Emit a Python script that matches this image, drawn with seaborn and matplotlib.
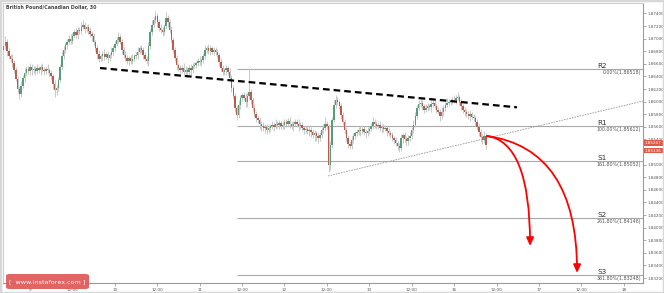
import matplotlib
matplotlib.use("Agg")
import matplotlib.pyplot as plt
import seaborn as sns
import numpy as np
from matplotlib.patches import FancyBboxPatch, Rectangle

# ---------------- data ----------------
title = "British Pound/Canadian Dollar, 30"
first_open = 1.8682
closes = [
    1.8688, 1.8695, 1.8680, 1.8672, 1.8668, 1.8662, 1.8650, 1.8636, 1.8620, 1.8612,
    1.8625, 1.8638, 1.8646, 1.8652, 1.8648, 1.8655, 1.8650, 1.8652, 1.8648, 1.8653,
    1.8650, 1.8655, 1.8651, 1.8648, 1.8652, 1.8650, 1.8646, 1.8640, 1.8628, 1.8618,
    1.8622, 1.8635, 1.8655, 1.8672, 1.8682, 1.8690, 1.8695, 1.8699, 1.8696, 1.8705,
    1.8710, 1.8706, 1.8714, 1.8712, 1.8719, 1.8722, 1.8716, 1.8718, 1.8712, 1.8708,
    1.8704, 1.8694, 1.8685, 1.8675, 1.8668, 1.8672, 1.8676, 1.8671, 1.8675, 1.8670,
    1.8674, 1.8679, 1.8685, 1.8692, 1.8698, 1.8703, 1.8695, 1.8682, 1.8674, 1.8669,
    1.8665, 1.8669, 1.8664, 1.8668, 1.8672, 1.8674, 1.8679, 1.8685, 1.8682, 1.8674,
    1.8668, 1.8664, 1.8688, 1.8711, 1.8722, 1.8730, 1.8736, 1.8726, 1.8717, 1.8713,
    1.8710, 1.8720, 1.8733, 1.8726, 1.8713, 1.8698, 1.8682, 1.8669, 1.8658, 1.8653,
    1.8650, 1.8654, 1.8647, 1.8651, 1.8647, 1.8653, 1.8650, 1.8657, 1.8658, 1.8661,
    1.8665, 1.8663, 1.8666, 1.8672, 1.8682, 1.8685, 1.8681, 1.8685, 1.8679, 1.8682,
    1.8679, 1.8674, 1.8663, 1.8653, 1.8647, 1.8650, 1.8653, 1.8647, 1.8638, 1.8622,
    1.8609, 1.8590, 1.8579, 1.8595, 1.8606, 1.8610, 1.8606, 1.8599, 1.8609, 1.8615,
    1.8603, 1.8590, 1.8580, 1.8574, 1.8571, 1.8565, 1.8561, 1.8558, 1.8560, 1.8555,
    1.8558, 1.8561, 1.8563, 1.8560, 1.8565, 1.8563, 1.8566, 1.8561, 1.8563, 1.8568,
    1.8565, 1.8569, 1.8565, 1.8561, 1.8565, 1.8568, 1.8565, 1.8561, 1.8563, 1.8558,
    1.8555, 1.8557, 1.8553, 1.8555, 1.8552, 1.8547, 1.8550, 1.8545, 1.8542, 1.8547,
    1.8555, 1.8558, 1.8565, 1.8561, 1.8499, 1.8531, 1.8571, 1.8595, 1.8603, 1.8599,
    1.8593, 1.8579, 1.8568, 1.8555, 1.8542, 1.8533, 1.8530, 1.8539, 1.8545, 1.8550,
    1.8552, 1.8555, 1.8553, 1.8557, 1.8552, 1.8550, 1.8553, 1.8557, 1.8561, 1.8568,
    1.8565, 1.8561, 1.8563, 1.8558, 1.8560, 1.8557, 1.8558, 1.8553, 1.8550, 1.8547,
    1.8542, 1.8539, 1.8534, 1.8530, 1.8526, 1.8542, 1.8547, 1.8541, 1.8538, 1.8542,
    1.8545, 1.8555, 1.8563, 1.8577, 1.8590, 1.8596, 1.8598, 1.8593, 1.8587, 1.8590,
    1.8593, 1.8591, 1.8596, 1.8598, 1.8593, 1.8587, 1.8584, 1.8577, 1.8584, 1.8590,
    1.8595, 1.8598, 1.8599, 1.8601, 1.8603, 1.8602, 1.8606, 1.8607, 1.8599, 1.8593,
    1.8587, 1.8584, 1.8580, 1.8577, 1.8580, 1.8576, 1.8574, 1.8568, 1.8560, 1.8552,
    1.8544, 1.8539, 1.8545, 1.8531,
]
# wick lengths above / below the body, in pips (0.0001)
upper_wick = [
    5,9,4,5,4,7,4,5,4,5,7,4,8,5,4,7,5,4,5,7,
    4,5,7,4,5,8,4,5,4,7,5,4,5,8,7,4,5,7,9,4,
    5,7,4,5,8,7,5,4,5,7,4,5,4,5,7,4,5,8,4,5,
    4,7,5,4,5,8,4,5,4,7,5,4,5,7,4,5,8,4,5,4,
    5,4,7,5,8,4,8,5,4,7,5,4,9,5,4,7,5,4,5,4,
    5,4,7,5,4,5,7,4,5,4,5,7,4,5,8,4,7,5,4,5,
    4,5,4,7,5,4,5,4,7,5,4,5,4,7,5,4,5,7,4,38,
    5,4,7,5,4,5,4,7,5,4,5,4,7,5,8,4,5,4,7,5,
    4,5,7,4,5,4,5,7,4,5,4,5,4,7,5,4,5,4,7,5,
    5,7,10,5,4,7,5,8,7,5,4,5,4,5,4,5,4,7,5,4,
    5,4,7,5,4,5,7,4,5,8,4,5,4,7,5,4,5,4,5,4,
    5,4,5,4,5,7,4,5,4,5,7,5,8,7,5,7,8,5,4,7,
    5,4,7,5,4,5,4,5,7,5,4,7,5,4,5,7,5,8,4,5,
    4,5,4,5,7,4,5,4,5,4,5,4,8,5,
]
lower_wick = [
    7,5,8,4,5,7,5,4,7,8,5,4,7,5,4,5,7,4,5,4,
    5,7,4,5,4,5,7,4,8,11,7,5,4,5,4,5,7,4,5,4,
    4,5,7,4,5,4,7,5,4,5,7,4,5,8,5,4,7,5,4,8,
    5,4,7,5,4,5,4,7,5,4,5,7,4,5,4,5,7,4,5,7,
    4,5,7,4,5,4,5,7,5,4,5,4,5,7,4,5,4,5,7,5,
    4,5,7,4,5,4,7,5,4,5,4,5,7,4,5,4,5,7,4,5,
    5,4,7,5,4,5,7,4,5,7,5,7,8,5,7,5,4,8,7,5,
    7,5,4,7,5,8,7,5,8,7,5,4,5,7,4,5,7,4,5,7,
    5,4,7,5,8,4,5,7,4,5,7,4,5,7,8,5,9,7,8,5,
    4,5,4,5,11,7,5,4,5,4,5,7,5,7,5,7,5,5,4,5,
    4,5,7,4,5,7,4,5,4,5,7,4,5,4,7,5,4,7,5,4,
    5,7,5,7,6,5,7,5,8,7,5,4,5,4,5,4,5,7,5,4,
    5,4,7,5,4,5,4,8,5,7,5,4,5,4,5,4,5,4,5,7,
    5,7,4,5,7,4,5,7,5,7,8,7,5,6,
]
x_tick_pos = [15, 39, 63, 87, 111, 135, 159, 183, 207, 231, 255, 279, 303, 327, 351]
x_tick_labels = ["9", "12:00", "10", "12:00", "11", "12:00", "12", "12:00",
                 "13", "12:00", "16", "12:00", "17", "12:00", "18"]
y_ticks = [1.832, 1.834, 1.836, 1.838, 1.840, 1.842, 1.844, 1.846, 1.848, 1.850,
           1.852, 1.854, 1.856, 1.858, 1.860, 1.862, 1.864, 1.866, 1.868, 1.870,
           1.872, 1.874]
y_tick_labels = ["1.83200", "1.83400", "1.83600", "1.83800", "1.84000", "1.84200",
                 "1.84400", "1.84600", "1.84800", "1.85000", "", "1.85400",
                 "1.85600", "1.85800", "1.86000", "1.86200", "1.86400", "1.86600",
                 "1.86800", "1.87000", "1.87200", "1.87400"]
level_names = ["R2", "R1", "S1", "S2", "S3"]
level_pcts = ["0.00%", "100.00%", "161.80%", "261.80%", "361.80%"]
level_values = [1.86518, 1.85612, 1.85052, 1.84146, 1.83248]
level_start = 132.1
resist_x = [54.6, 290.6]
resist_y = [1.86534, 1.8591]
support_x = [183.6, 361.9]
support_y = [1.84820, 1.86010]
arrow_start = (273.6, 1.85455)
arrow_ends = [(298.0, 1.83709), (324.6, 1.83280)]
price_tags = ["1.85307", "1.85336"]

# ---------------- figure ----------------
sns.set_theme(style="white")
plt.rcParams["font.family"] = ["DejaVu Sans"]

W, H = 664, 293
fig = plt.figure(figsize=(W / 100, H / 100), dpi=100)
fig.patch.set_facecolor("white")
L, R, T, B = 3, 643, 3, 283
ax = fig.add_axes([L / W, 1 - B / H, (R - L) / W, (B - T) / H])
ax.set_facecolor("white")
ax.set_xlim(-0.28, 361.9)
ax.set_ylim(1.83121, 1.87566)

closes_a = np.array(closes)
opens_a = np.r_[first_open, closes_a[:-1]]
xs = np.arange(len(closes_a))
tops = np.maximum(opens_a, closes_a)
bots = np.minimum(opens_a, closes_a)
highs = tops + np.array(upper_wick) * 1e-4
lows = bots - np.array(lower_wick) * 1e-4
up = closes_a >= opens_a
ax.vlines(xs, lows, highs, color="#c8c8c8", lw=0.7, zorder=2)
heights = np.where(np.abs(closes_a - opens_a) < 3e-5, 3e-5, closes_a - opens_a)
ax.bar(xs, heights, bottom=opens_a, width=0.8,
       color=np.where(up, "#5a9c77", "#b85c50"), linewidth=0, zorder=3)

# levels
for name, pct, val in zip(level_names, level_pcts, level_values):
    ax.hlines(val, level_start, 361.9, color="#a8a8a8", lw=0.8, zorder=1)
    ax.annotate(name, (335.9, val), xytext=(0, 0.3), textcoords="offset points",
                ha="left", va="bottom", fontsize=5.2, color="#333333")
    ax.annotate(f"{pct}({val:.5f})", (360.8, val), xytext=(0, -0.6),
                textcoords="offset points", ha="right", va="top",
                fontsize=3.4, color="#555555")

# trend lines
sns.lineplot(x=resist_x, y=resist_y, ax=ax, color="black", lw=1.6,
             linestyle=(0, (3, 1.8)), zorder=4)
ax.plot(support_x, support_y, color="#9a9a9a", lw=0.6, ls=(0, (2, 1.2)), zorder=1)

# red arrows
for end in arrow_ends:
    ax.annotate("", xy=end, xytext=arrow_start,
                arrowprops=dict(arrowstyle="-|>,head_length=0.4,head_width=0.18",
                                color="red", lw=1.3, shrinkA=0, shrinkB=0,
                                connectionstyle="angle3,angleA=-8,angleB=90"),
                zorder=5)

# axes styling
for s in ["top", "left"]:
    ax.spines[s].set_color("#cfcfcf")
    ax.spines[s].set_linewidth(0.8)
for s in ["right", "bottom"]:
    ax.spines[s].set_color("#9a9a9a")
    ax.spines[s].set_linewidth(0.8)
ax.yaxis.tick_right()
ax.set_yticks(y_ticks)
ax.set_yticklabels(y_tick_labels)
ax.set_xticks(x_tick_pos)
ax.set_xticklabels(x_tick_labels)
ax.tick_params(axis="y", right=True, left=False, direction="out", length=2,
               width=0.5, color="#888888", labelsize=3, labelcolor="#555555", pad=1.5)
ax.tick_params(axis="x", bottom=True, direction="out", length=2, width=0.5,
               color="#888888", labelsize=3, labelcolor="#555555", pad=1.5)
ax.grid(False)

# title
fig.text(6 / W, 1 - 8 / H, title, fontsize=3.4, weight="bold", color="#444444",
         ha="left", va="center")

# price tags on the right axis
for txt, yc in zip(price_tags, [143.0, 150.5]):
    fig.text(653.5 / W, 1 - yc / H, txt, fontsize=3, color="white", ha="center",
             va="center", zorder=10,
             bbox=dict(boxstyle="square,pad=0.2", fc="#e05a46", ec="none"))

# watermark
fig.patches.append(FancyBboxPatch((6 / W, 1 - 289 / H), 83 / W, 15 / H,
                                  boxstyle="round,pad=0,rounding_size=0.006",
                                  transform=fig.transFigure, fc="#e05858",
                                  ec="none", alpha=0.92, zorder=10))
fig.text(47.5 / W, 1 - 281.5 / H, "[  www.instaforex.com ]", fontsize=4.6,
         color="white", ha="center", va="center", zorder=11)

# outer border
fig.patches.append(Rectangle((0, 0), 1, 1, transform=fig.transFigure, fill=False,
                             ec="#d8d8d8", lw=2.5, zorder=12))

fig.savefig("out.png", dpi=100)
